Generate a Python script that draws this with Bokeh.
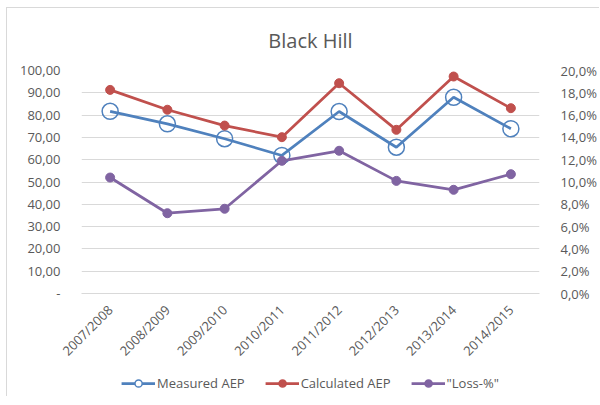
from bokeh.plotting import figure
from bokeh.models import Range1d, LinearAxis, Legend, LegendItem, FactorRange, FixedTicker
from bokeh.layouts import column
from bokeh.embed import file_html
from bokeh.resources import INLINE

seasons = ["2007/2008", "2008/2009", "2009/2010", "2010/2011",
           "2011/2012", "2012/2013", "2013/2014", "2014/2015"]
measured_aep = [81.7, 76.1, 69.4, 61.9, 81.6, 65.6, 88.0, 73.9]
calculated_aep = [91.3, 82.4, 75.3, 70.1, 94.3, 73.4, 97.3, 83.1]
loss_pct = [0.104, 0.072, 0.076, 0.119, 0.128, 0.101, 0.093, 0.107]

left_ticks = [0, 10, 20, 30, 40, 50, 60, 70, 80, 90, 100]
right_ticks = [0, 0.02, 0.04, 0.06, 0.08, 0.10, 0.12, 0.14, 0.16, 0.18, 0.20]
series_names = ["Measured AEP", "Calculated AEP", '"Loss-%"']

FONT = "Open Sans"
TXT = "#595959"
GRID = "#d9d9d9"
BLUE = "#4F81BD"
RED = "#C0504D"
PURPLE = "#8064A2"

p = figure(width=592, height=362, x_range=FactorRange(*seasons), y_range=Range1d(0, 100),
           output_backend="svg", toolbar_location=None,
           min_border_left=74, min_border_right=57, min_border_top=62, min_border_bottom=77)
p.title.text = "Black Hill"
p.title.align = "center"
p.title.text_font = FONT
p.title.text_font_size = "20px"
p.title.text_font_style = "normal"
p.title.text_color = TXT
p.title.standoff = 33

p.outline_line_color = None
p.xgrid.grid_line_color = None
p.ygrid.grid_line_color = GRID
p.ygrid.ticker = FixedTicker(ticks=left_ticks)

p.extra_y_ranges = {"pct": Range1d(0, 0.2)}

# left axis
p.yaxis.ticker = FixedTicker(ticks=left_ticks)
p.yaxis.major_label_overrides = {t: ("-" if t == 0 else f"{t},00") for t in left_ticks}
p.yaxis.axis_line_color = None
p.yaxis.major_tick_line_color = None
p.yaxis.minor_tick_line_color = None
p.yaxis.major_label_standoff = 15
p.yaxis.major_label_text_font = FONT
p.yaxis.major_label_text_font_size = "13px"
p.yaxis.major_label_text_color = TXT

# right axis
ra = LinearAxis(y_range_name="pct", ticker=FixedTicker(ticks=right_ticks))
ra.major_label_overrides = {t: (f"{t*100:.1f}".replace(".", ",") + "%") for t in right_ticks}
ra.axis_line_color = None
ra.major_tick_line_color = None
ra.minor_tick_line_color = None
ra.major_label_standoff = 15
ra.major_label_text_font = FONT
ra.major_label_text_font_size = "13px"
ra.major_label_text_color = TXT
p.add_layout(ra, "right")

# x axis
p.xaxis.axis_line_color = GRID
p.xaxis.major_tick_line_color = None
p.xaxis.minor_tick_line_color = None
p.xaxis.major_label_orientation = 0.785398
p.xaxis.major_label_standoff = 8
p.xaxis.major_label_text_font = FONT
p.xaxis.major_label_text_font_size = "13px"
p.xaxis.major_label_text_color = TXT

p.line(seasons, measured_aep, line_color=BLUE, line_width=2.75)
p.scatter(seasons, measured_aep, size=16, marker="circle", fill_color=None,
          line_color=BLUE, line_width=1.5)
p.line(seasons, calculated_aep, line_color=RED, line_width=2.75)
p.scatter(seasons, calculated_aep, size=9, marker="circle", fill_color=RED, line_color=RED)
p.line(seasons, loss_pct, line_color=PURPLE, line_width=2.75, y_range_name="pct")
p.scatter(seasons, loss_pct, size=9, marker="circle", fill_color=PURPLE,
          line_color=PURPLE, y_range_name="pct")

# legend strip below the chart (legend keys only; the key glyphs sit outside its range)
lg = figure(width=592, height=26, output_backend="svg", toolbar_location=None,
            x_axis_location=None, y_axis_location=None, min_border=0,
            x_range=Range1d(0, 1), y_range=Range1d(0, 1))
lg.outline_line_color = None
lg.grid.visible = False
items = []
for name, col, hollow in zip(series_names, [BLUE, RED, PURPLE], [True, False, False]):
    rl = lg.line([-5, -4], [-5, -5], line_color=col, line_width=2.75)
    rs = lg.scatter([-5], [-5], marker="circle", size=9, line_color=col, line_width=1.5,
                    fill_color="white" if hollow else col)
    items.append(LegendItem(label=name, renderers=[rl, rs]))
legend = Legend(items=items, orientation="horizontal", location="center")
legend.border_line_color = None
legend.background_fill_alpha = 0
legend.label_text_font = FONT
legend.label_text_font_size = "13px"
legend.label_text_color = TXT
legend.glyph_width = 34
legend.glyph_height = 18
legend.spacing = 20
legend.label_standoff = 2
legend.margin = 0
legend.padding = 2
lg.add_layout(legend, "center")

layout = column(p, lg, spacing=0, margin=(7, 0, 0, 6),
                styles={"border-left": "1px solid #d9d9d9", "border-top": "1px solid #d9d9d9"})

open("out.html", "w").write(file_html(layout, INLINE))
